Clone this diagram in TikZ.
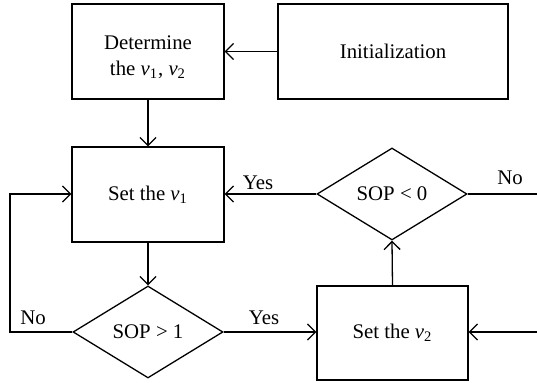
\documentclass[tikz,border=0pt]{standalone}
\usepackage{fontspec}
\setmainfont{Liberation Serif}
\usetikzlibrary{shapes.geometric,arrows.meta}
\begin{document}
\begin{tikzpicture}[x=0.5pt,y=-0.5pt,
  font=\fontsize{10.4}{13}\selectfont,
  every path/.style={line width=0.65pt},
  box/.style={draw,line width=0.65pt,inner sep=0pt,align=center},
  dia/.style={draw,line width=0.65pt,diamond,inner sep=0pt,minimum width=75pt,minimum height=46pt},
  conn/.style={-{Straight Barb[length=4pt,width=8pt]}},
  lbl/.style={inner sep=0pt}]
\useasboundingbox (0,0) rectangle (537,383);
\node[box,minimum width=76pt,minimum height=47.5pt] (det) at (148,51.5) {};
\node[lbl,align=center] (detT) at (148,57) {Determine\\the \textit{v}\textsubscript{1}, \textit{v}\textsubscript{2}};
\node[box,minimum width=115pt,minimum height=47.5pt] (init) at (393,51.5) {Initialization};
\node[box,minimum width=76pt,minimum height=47.5pt] (s1) at (148,194.5) {Set the \textit{v}\textsubscript{1}};
\node[dia] (d0) at (392,194) {SOP {\textless} 0};
\node[dia] (d1) at (148,332) {SOP {\textgreater} 1};
\node[box,minimum width=75.5pt,minimum height=47pt] (s2) at (392.5,333) {Set the \textit{v}\textsubscript{2}};
\coordinate (noR) at (537,194);
\coordinate (inR) at (537,332);
\coordinate (lp) at (10,332);
\coordinate (lq) at (10,194);
\draw[conn] (init.west) -- (det.east |- init.west);
\draw[conn] (det.south) -- (s1.north);
\draw[conn] (d0.west) -- (s1.east |- d0.west);
\draw (d0.east) -- (noR);
\draw[conn] (s1.south) -- (d1.north);
\draw[conn] (d1.west) -- (lp) -- (lq) -- (s1.west |- lq);
\draw[conn] (d1.east) -- (s2.west |- d1.east);
\draw[conn] (s2.north) -- (d0.south);
\draw[conn] (inR) -- (s2.east |- inR);
\node[lbl] (yes1) at (258,183) {Yes};
\node[lbl] (no1) at (510,178) {No};
\node[lbl] (no2) at (33,318) {No};
\node[lbl] (yes2) at (264,318) {Yes};
\end{tikzpicture}
\end{document}
